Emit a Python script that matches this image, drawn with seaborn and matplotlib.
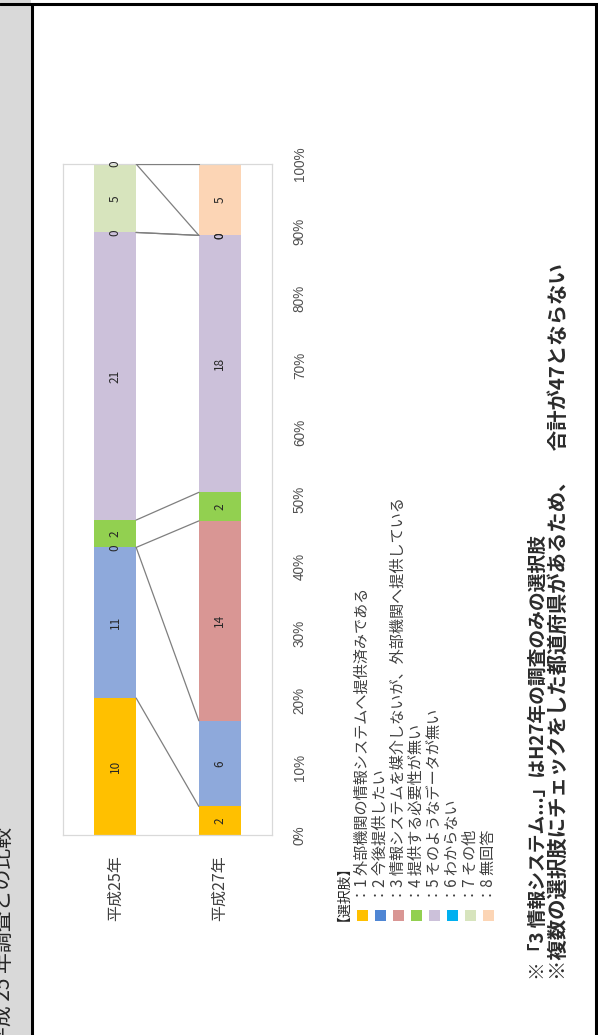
import numpy as np
import pandas as pd
import matplotlib
matplotlib.use("Agg")
import matplotlib.pyplot as plt
from matplotlib.patches import Rectangle
from matplotlib.lines import Line2D
from matplotlib import font_manager
import seaborn as sns

# ---- data -------------------------------------------------------------
years = ["平成25年", "平成27年"]
choices = ["1", "2", "3", "4", "5", "6", "7", "8"]
choice_labels = [
    "外部機関の情報システムへ提供済みである",
    "今後提供したい",
    "情報システムを媒介しないが、外部機関へ提供している",
    "提供する必要性が無い",
    "そのようなデータが無い",
    "わからない",
    "その他",
    "無回答",
]
counts_h25 = [10, 11, 0, 2, 21, 0, 5, 0]
counts_h27 = [2, 6, 14, 2, 18, 0, 0, 5]
pct_ticks = [0, 10, 20, 30, 40, 50, 60, 70, 80, 90, 100]

bar_colors = ["#FFC000", "#8EA9DB", "#D99694", "#92D050",
              "#CCC1DA", "#00B0F0", "#D7E4BD", "#FCD5B5"]
legend_colors = ["#FFC000", "#4F86D4", "#D99694", "#92D050",
                 "#CCC1DA", "#00B0F0", "#D7E4BD", "#FCD5B5"]

page_title = "平成 25 年調査との比較"
legend_title = "【選択肢】"
notes = [
    "※「3 情報システム...」はH27年の調査のみの選択肢",
    "※複数の選択肢にチェックをした都道府県があるため、　合計が47とならない",
]

# ---- style ------------------------------------------------------------
sns.set_theme(style="white")
plt.rcParams["font.family"] = ["Noto Sans CJK JP", "DejaVu Sans"]
installed = {f.name for f in font_manager.fontManager.ttflist}
narrow = "Liberation Sans Narrow" if "Liberation Sans Narrow" in installed else "Liberation Sans"

W, H = 598, 1035
fig = plt.figure(figsize=(W / 100, H / 100), dpi=100)
fig.patch.set_facecolor("white")


def fx(x):
    return x / W


def fy(y):
    return 1 - y / H


# ---- page frame -------------------------------------------------------
fig.patches.append(Rectangle((0, 0), fx(31), 1, transform=fig.transFigure,
                             facecolor="#D9D9D9", edgecolor="none", zorder=0))
for xs, ys in [([fx(32), fx(32)], [0, fy(4)]),
               ([0, 1], [fy(4), fy(4)]),
               ([fx(596), fx(596)], [0, fy(4)])]:
    fig.add_artist(Line2D(xs, ys, transform=fig.transFigure,
                          color="black", lw=2.2, zorder=5))
fig.text(fx(4), fy(827), page_title, rotation=90, ha="center", va="top",
         fontsize=15, color="#262626")

# ---- stacked 100% bars ------------------------------------------------
df = pd.DataFrame({
    "year": np.repeat(years, len(choices)),
    "choice": choices * len(years),
    "n": counts_h25 + counts_h27,
})
df["share"] = df["n"] / df.groupby("year")["n"].transform("sum")
df["base"] = df.groupby("year")["share"].cumsum() - df["share"]
df["top"] = df["base"] + df["share"]

ax = fig.add_axes([fx(63), fy(835), fx(272) - fx(63), fy(164) - fy(835)])
bar_w = 0.4
for i, ch in enumerate(choices):
    sub = df[df["choice"] == ch].set_index("year").loc[years]
    sns.barplot(x=years, y=sub["share"].to_numpy(), order=years,
                bottom=sub["base"].to_numpy(), color=bar_colors[i],
                saturation=1, width=bar_w, errorbar=None, ax=ax,
                edgecolor="none", linewidth=0, zorder=2)

# series lines between the two bars
for ch in choices:
    sub = df[df["choice"] == ch].set_index("year").loc[years]
    ax.plot([0 + bar_w / 2, 1 - bar_w / 2], sub["top"].to_numpy(),
            color="#7F7F7F", lw=0.9, zorder=3)

# value labels
for xi, yr in enumerate(years):
    sub = df[df["year"] == yr]
    for _, r in sub.iterrows():
        ax.text(xi, r["base"] + r["share"] / 2, str(r["n"]), rotation=90,
                ha="center", va="center", fontsize=8.5, color="#262626",
                zorder=4)

ax.set_xlim(-0.5, 1.5)
ax.set_ylim(0, 1)
ax.set_xlabel("")
ax.set_ylabel("")
ax.yaxis.tick_right()
ax.set_yticks(np.array(pct_ticks) / 100)
ax.set_yticklabels([f"{t}%" for t in pct_ticks], rotation=90, va="center",
                   fontsize=9.8, color="#505050", family=narrow)
ax.set_xticks(range(len(years)))
ax.set_xticklabels(years, rotation=90, ha="center", va="top",
                   fontsize=11.5, color="#404040")
ax.tick_params(axis="y", length=0, pad=15)
ax.tick_params(axis="x", length=0, pad=14.5)
for sp in ax.spines.values():
    sp.set_visible(True)
    sp.set_color("#D9D9D9")
    sp.set_linewidth(0.9)
ax.grid(False)

# ---- legend ----------------------------------------------------------
fig.text(fx(337), fy(921), legend_title, rotation=90, ha="center",
         va="bottom", fontsize=10, color="#262626")
for i, (ch, lab) in enumerate(zip(choices, choice_labels)):
    xc = 362 + 18.1 * i
    fig.patches.append(Rectangle((fx(xc - 5.5), fy(921)), 11 / W, 11 / H,
                                 transform=fig.transFigure,
                                 facecolor=legend_colors[i], edgecolor="none"))
    fig.text(fx(xc), fy(902), f"：{ch} {lab}", rotation=90, ha="center",
             va="bottom", fontsize=10.9, color="#404040")

# ---- notes -----------------------------------------------------------
fig.text(fx(538), fy(980), notes[0], rotation=90, ha="center", va="bottom",
         fontsize=13.5, fontweight="bold", color="#2B2B2B")
fig.text(fx(558), fy(980), notes[1], rotation=90, ha="center", va="bottom",
         fontsize=14.7, fontweight="bold", color="#2B2B2B")

fig.savefig("out.png", dpi=100)
